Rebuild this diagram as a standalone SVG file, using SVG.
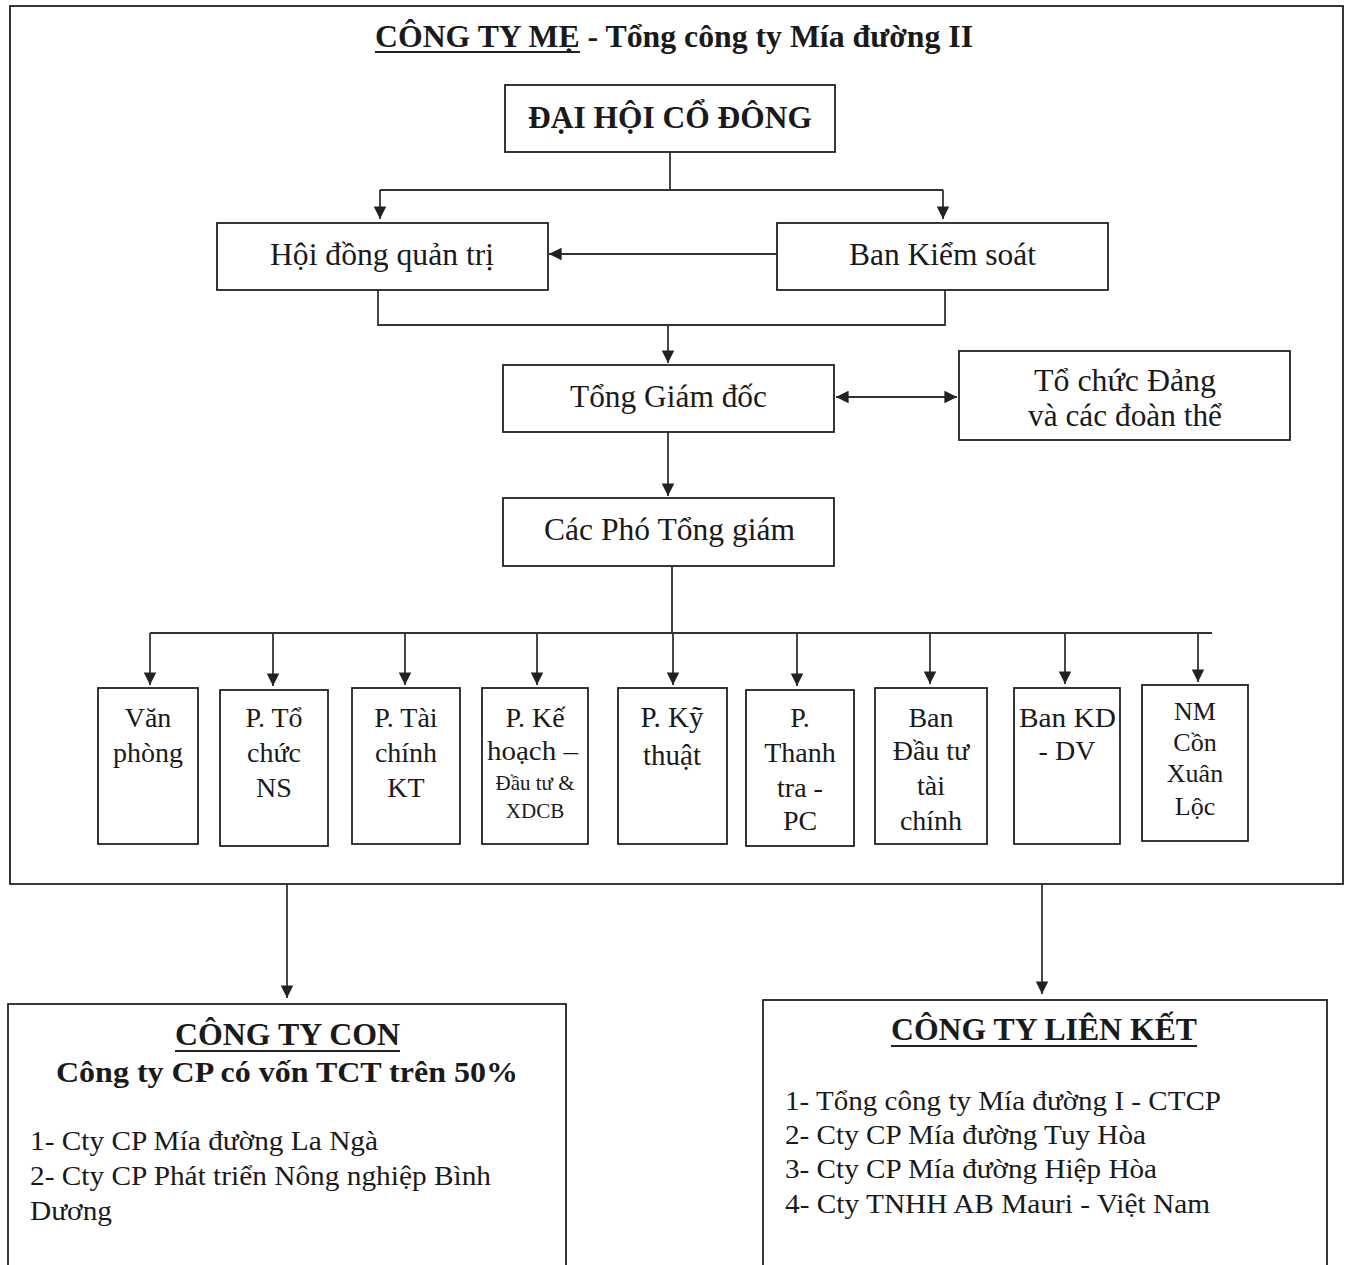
<svg xmlns="http://www.w3.org/2000/svg" width="1348" height="1265" viewBox="0 0 1348 1265">
<style>
.box{fill:#fff;stroke:#222;stroke-width:1.8}
.ln{fill:none;stroke:#333;stroke-width:1.8}
.t{font-family:"Liberation Serif","Times New Roman",serif;fill:#1a1a1a}
.c{text-anchor:middle}
.b{font-weight:bold}
.d{font-size:28px}
</style>
<defs>
<marker id="ah" viewBox="0 0 10 10" refX="10" refY="5" markerWidth="7" markerHeight="7" markerUnits="strokeWidth" orient="auto-start-reverse">
<path d="M0,0 L10,5 L0,10 z" fill="#222"/>
</marker>
</defs>
<rect width="1348" height="1265" fill="#fff"/>
<g id="cong-ty-me">
<rect class="box" x="10" y="6" width="1333" height="878"/>
<text class="t b" x="375" y="47" font-size="31" textLength="598" lengthAdjust="spacingAndGlyphs">CÔNG TY MẸ - Tổng công ty Mía đường II</text>
<line x1="375" y1="52" x2="580" y2="52" stroke="#222" stroke-width="2"/>
</g>
<g id="connectors">
<path class="ln" d="M670,152 V190 M380,190 H943"/>
<path class="ln" d="M380,190 V219" marker-end="url(#ah)"/>
<path class="ln" d="M943,190 V219" marker-end="url(#ah)"/>
<path class="ln" d="M777,254 H549" marker-end="url(#ah)"/>
<path class="ln" d="M378,290 V325 H945 V290"/>
<path class="ln" d="M668,325 V363" marker-end="url(#ah)"/>
<path class="ln" d="M836,397 H957" marker-start="url(#ah)" marker-end="url(#ah)"/>
<path class="ln" d="M668,432 V496" marker-end="url(#ah)"/>
<path class="ln" d="M672,566 V633 M150,633 H1212"/>
<path class="ln" d="M150,633 V685" marker-end="url(#ah)"/>
<path class="ln" d="M273,633 V686" marker-end="url(#ah)"/>
<path class="ln" d="M405,633 V685" marker-end="url(#ah)"/>
<path class="ln" d="M537,633 V685" marker-end="url(#ah)"/>
<path class="ln" d="M673,633 V685" marker-end="url(#ah)"/>
<path class="ln" d="M797,633 V686" marker-end="url(#ah)"/>
<path class="ln" d="M930,633 V684" marker-end="url(#ah)"/>
<path class="ln" d="M1065,633 V684" marker-end="url(#ah)"/>
<path class="ln" d="M1198,633 V682" marker-end="url(#ah)"/>
<path class="ln" d="M287,884 V998" marker-end="url(#ah)"/>
<path class="ln" d="M1042,884 V994" marker-end="url(#ah)"/>
</g>
<g id="dai-hoi-co-dong">
<rect class="box" x="505" y="85" width="330" height="67"/>
<text class="t b" x="528" y="128" font-size="31" textLength="284" lengthAdjust="spacingAndGlyphs">ĐẠI HỘI CỔ ĐÔNG</text>
</g>
<g id="hoi-dong-quan-tri">
<rect class="box" x="217" y="223" width="331" height="67"/>
<text class="t" x="270" y="265" font-size="31" textLength="224" lengthAdjust="spacingAndGlyphs">Hội đồng quản trị</text>
</g>
<g id="ban-kiem-soat">
<rect class="box" x="777" y="223" width="331" height="67"/>
<text class="t" x="849" y="265" font-size="31" textLength="187" lengthAdjust="spacingAndGlyphs">Ban Kiểm soát</text>
</g>
<g id="tong-giam-doc">
<rect class="box" x="503" y="365" width="331" height="67"/>
<text class="t" x="570" y="407" font-size="31" textLength="197" lengthAdjust="spacingAndGlyphs">Tổng Giám đốc</text>
</g>
<g id="to-chuc-dang">
<rect class="box" x="959" y="351" width="331" height="89"/>
<text class="t" x="1034" y="391" font-size="31" textLength="182" lengthAdjust="spacingAndGlyphs">Tổ chức Đảng</text>
<text class="t" x="1028" y="426" font-size="31" textLength="194" lengthAdjust="spacingAndGlyphs">và các đoàn thể</text>
</g>
<g id="cac-pho-tong-giam-doc">
<rect class="box" x="503" y="498" width="331" height="68"/>
<text class="t" x="544" y="540" font-size="31" textLength="251" lengthAdjust="spacingAndGlyphs">Các Phó Tổng giám</text>
</g>
<g id="van-phong">
<rect class="box" x="98" y="688" width="100" height="156"/>
<text class="t c d" x="148" y="727">Văn</text>
<text class="t c d" x="148" y="762">phòng</text>
</g>
<g id="p-to-chuc-ns">
<rect class="box" x="220" y="690" width="108" height="156"/>
<text class="t c d" x="274" y="727">P. Tổ</text>
<text class="t c d" x="274" y="762">chức</text>
<text class="t c d" x="274" y="797">NS</text>
</g>
<g id="p-tai-chinh-kt">
<rect class="box" x="352" y="688" width="108" height="156"/>
<text class="t c d" x="406" y="727">P. Tài</text>
<text class="t c d" x="406" y="762">chính</text>
<text class="t c d" x="406" y="797">KT</text>
</g>
<g id="p-ke-hoach">
<rect class="box" x="482" y="688" width="106" height="156"/>
<text class="t c d" x="535" y="727">P. Kế</text>
<text class="t" x="487" y="760" font-size="28" textLength="91" lengthAdjust="spacingAndGlyphs">hoạch –</text>
<text class="t c" x="535" y="790" font-size="21">Đầu tư &amp;</text>
<text class="t c" x="535" y="818" font-size="21">XDCB</text>
</g>
<g id="p-ky-thuat">
<rect class="box" x="618" y="688" width="109" height="156"/>
<text class="t c" x="672" y="727" font-size="29">P. Kỹ</text>
<text class="t c" x="672" y="765" font-size="29">thuật</text>
</g>
<g id="p-thanh-tra">
<rect class="box" x="746" y="690" width="108" height="156"/>
<text class="t c d" x="800" y="727">P.</text>
<text class="t c d" x="800" y="762">Thanh</text>
<text class="t c d" x="800" y="797">tra -</text>
<text class="t c d" x="800" y="830">PC</text>
</g>
<g id="ban-dau-tu-tai-chinh">
<rect class="box" x="875" y="688" width="112" height="156"/>
<text class="t c d" x="931" y="727">Ban</text>
<text class="t c d" x="931" y="760">Đầu tư</text>
<text class="t c d" x="931" y="795">tài</text>
<text class="t c d" x="931" y="830">chính</text>
</g>
<g id="ban-kd-dv">
<rect class="box" x="1014" y="688" width="106" height="156"/>
<text class="t" x="1019" y="727" font-size="28" textLength="97" lengthAdjust="spacingAndGlyphs">Ban KD</text>
<text class="t c d" x="1067" y="760">- DV</text>
</g>
<g id="nm-con-xuan-loc">
<rect class="box" x="1142" y="685" width="106" height="156"/>
<text class="t c" x="1195" y="720" font-size="26">NM</text>
<text class="t c" x="1195" y="751" font-size="26">Cồn</text>
<text class="t c" x="1195" y="782" font-size="26">Xuân</text>
<text class="t c" x="1195" y="815" font-size="26">Lộc</text>
</g>
<g id="cong-ty-con">
<rect class="box" x="8" y="1004" width="558" height="280"/>
<text class="t b" x="175" y="1045" font-size="31" textLength="225" lengthAdjust="spacingAndGlyphs">CÔNG TY CON</text>
<line x1="175" y1="1051" x2="400" y2="1051" stroke="#222" stroke-width="2"/>
<text class="t b" x="56" y="1082" font-size="30" textLength="462" lengthAdjust="spacingAndGlyphs">Công ty CP có vốn TCT trên 50%</text>
<text class="t" x="30" y="1150" font-size="28" textLength="348" lengthAdjust="spacingAndGlyphs">1- Cty CP Mía đường La Ngà</text>
<text class="t" x="30" y="1185" font-size="28" textLength="461" lengthAdjust="spacingAndGlyphs">2- Cty CP Phát triển Nông nghiệp Bình</text>
<text class="t" x="30" y="1220" font-size="28" textLength="82" lengthAdjust="spacingAndGlyphs">Dương</text>
</g>
<g id="cong-ty-lien-ket">
<rect class="box" x="763" y="1000" width="564" height="284"/>
<text class="t b" x="891" y="1040" font-size="31" textLength="306" lengthAdjust="spacingAndGlyphs">CÔNG TY LIÊN KẾT</text>
<line x1="891" y1="1046" x2="1197" y2="1046" stroke="#222" stroke-width="2"/>
<text class="t" x="785" y="1110" font-size="28" textLength="436" lengthAdjust="spacingAndGlyphs">1- Tổng công ty Mía đường I - CTCP</text>
<text class="t" x="785" y="1144" font-size="28" textLength="361" lengthAdjust="spacingAndGlyphs">2- Cty CP Mía đường Tuy Hòa</text>
<text class="t" x="785" y="1178" font-size="28" textLength="372" lengthAdjust="spacingAndGlyphs">3- Cty CP Mía đường Hiệp Hòa</text>
<text class="t" x="785" y="1213" font-size="28" textLength="425" lengthAdjust="spacingAndGlyphs">4- Cty TNHH AB Mauri - Việt Nam</text>
</g>
</svg>
